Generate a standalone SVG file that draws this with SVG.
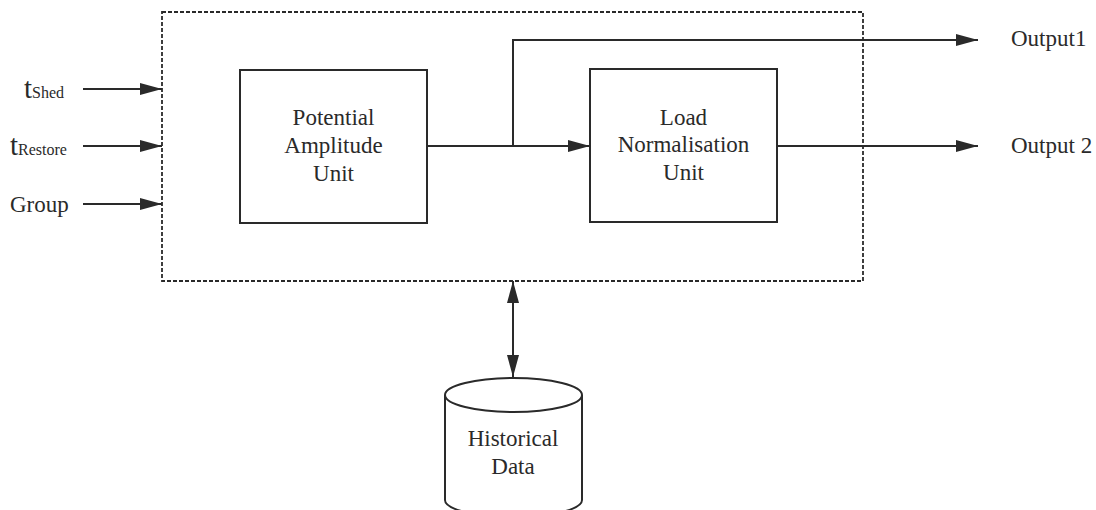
<svg xmlns="http://www.w3.org/2000/svg" width="1096" height="510" viewBox="0 0 1096 510">
<style>
text{font-family:"Liberation Serif","Times New Roman",serif;fill:#2a2a2a;font-size:23px}
.box{fill:none;stroke:#2a2a2a;stroke-width:2}
.dash{fill:none;stroke:#2a2a2a;stroke-width:1.8;stroke-dasharray:4 2}
.conn{fill:none;stroke:#2a2a2a;stroke-width:2}
.mid{text-anchor:middle}
.sub{font-size:16px}
.t{font-size:29px}
</style>
<defs>
<marker id="ah" markerUnits="userSpaceOnUse" markerWidth="22" markerHeight="12" refX="22" refY="6" orient="auto-start-reverse">
<path d="M0,0 L22,6 L0,12 z" fill="#2a2a2a"/>
</marker>
</defs>
<rect x="0" y="0" width="1096" height="510" fill="#ffffff"/>
<g id="system-boundary">
<rect class="dash" x="162" y="12" width="701" height="269"/>
</g>
<g id="potential-amplitude-unit">
<rect class="box" x="240" y="70" width="187" height="153"/>
<text class="mid" x="333.5" y="125">Potential</text>
<text class="mid" x="333.5" y="153">Amplitude</text>
<text class="mid" x="333.5" y="181">Unit</text>
</g>
<g id="load-normalisation-unit">
<rect class="box" x="590" y="69" width="187" height="153"/>
<text class="mid" x="683.5" y="125">Load</text>
<text class="mid" x="683.5" y="152">Normalisation</text>
<text class="mid" x="683.5" y="180">Unit</text>
</g>
<g id="historical-data">
<path class="box" d="M445,395 L445,500 A68.5,17 0 0 0 582,500 L582,395" fill="#fff"/>
<ellipse class="box" cx="513.5" cy="395" rx="68.5" ry="17"/>
<text class="mid" x="513" y="446">Historical</text>
<text class="mid" x="513" y="474">Data</text>
</g>
<g id="input-tshed"><text x="24" y="98"><tspan class="t">t</tspan><tspan class="sub">Shed</tspan></text></g>
<g id="input-trestore"><text x="10" y="155"><tspan class="t">t</tspan><tspan class="sub">Restore</tspan></text></g>
<g id="input-group"><text x="10" y="212">Group</text></g>
<g id="output1"><text x="1011" y="46">Output1</text></g>
<g id="output2"><text x="1011" y="153">Output 2</text></g>
<g id="connectors">
<line class="conn" x1="83" y1="89" x2="162" y2="89" marker-end="url(#ah)"/>
<line class="conn" x1="83" y1="146" x2="162" y2="146" marker-end="url(#ah)"/>
<line class="conn" x1="83" y1="204" x2="162" y2="204" marker-end="url(#ah)"/>
<line class="conn" x1="427" y1="146" x2="590" y2="146" marker-end="url(#ah)"/>
<polyline class="conn" points="513,146 513,40 978,40" marker-end="url(#ah)"/>
<line class="conn" x1="777" y1="146" x2="978" y2="146" marker-end="url(#ah)"/>
<line class="conn" x1="513" y1="281" x2="513" y2="377" marker-start="url(#ah)" marker-end="url(#ah)"/>
</g>
</svg>
